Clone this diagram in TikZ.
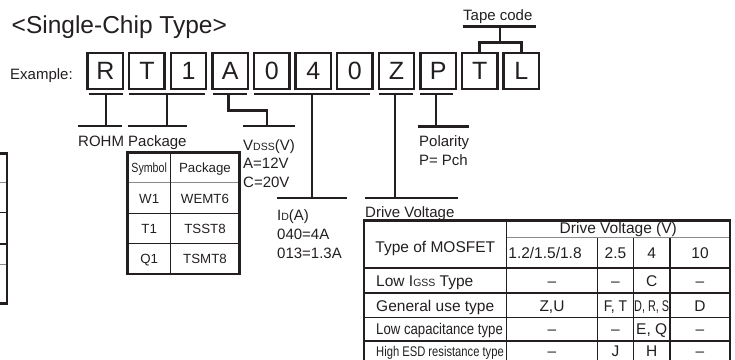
\documentclass[tikz,border=0pt]{standalone}
\usepackage{fontspec}
\usepackage{graphicx}
\setmainfont{Liberation Sans}
\definecolor{ink}{HTML}{231F20}
\definecolor{softrule}{HTML}{8A8A8A}
\newcommand{\fsz}[1]{\fontsize{#1}{#1}\selectfont}
\newcommand{\smc}[1]{{\fsz{10.5}#1}}
\begin{document}
\begin{tikzpicture}[x=1pt,y=-1pt,
  letterbox/.style={draw=ink, line width=2.4pt, minimum width=35.5pt, minimum height=35.5pt, inner sep=0pt, font=\fsz{25}, text=ink},
  bar/.style={draw=ink, line width=2.6pt},
  lbl/.style={anchor=base west, inner sep=0pt, font=\fsz{15}, text=ink},
  cell/.style={anchor=base, inner sep=0pt, font=\fsz{15.5}, text=ink},
  pcell/.style={anchor=base, inner sep=0pt, font=\fsz{13.3}, text=ink},
  thinrule/.style={draw=ink, line width=1.1pt},
  greyrule/.style={draw=softrule, line width=1pt},
  frame/.style={draw=ink, line width=2.6pt}]
\clip (0,0) rectangle (735,359);
\useasboundingbox (0,0) rectangle (735,359);

% title
\node[anchor=base west, inner sep=0pt, font=\fsz{24.5}, text=ink] (title) at (11.5,33) {<Single-Chip Type>};
\node[lbl] (example) at (10,79) {Example:};

% letter boxes
\node[letterbox] (bR)  at (105.3,71) {R};
\node[letterbox] (bT)  at (146.9,71) {T};
\node[letterbox] (b1)  at (188.5,71) {1};
\node[letterbox] (bA)  at (230.1,71) {A};
\node[letterbox] (b0a) at (271.7,71) {0};
\node[letterbox] (b4)  at (313.3,71) {4};
\node[letterbox] (b0b) at (354.9,71) {0};
\node[letterbox] (bZ)  at (396.5,71) {Z};
\node[letterbox] (bP)  at (438.1,71) {P};
\node[letterbox] (bT2) at (479.7,71) {T};
\node[letterbox] (bL)  at (521.3,71) {L};

% tape code
\node[lbl] (tape) at (463,20.7) {Tape code};
\coordinate (tapeA) at (500,26.7);
\coordinate (tapeB) at (500,42.7);
\draw[bar] (462.5,26.7) -- (536,26.7);
\draw[bar] (tapeA) -- (tapeB);
\draw[bar] (bT2.north) |- (tapeB) -| (bL.north);

% top bars and stems
\coordinate (rTop) at (106,94);
\coordinate (rBot) at (106,126);
\draw[bar] (88.5,94) -- (122.5,94);
\draw[bar] (rTop) -- (rBot);
\draw[bar] (78,126) -- (122,126);

\coordinate (pkTop) at (167,94);
\coordinate (pkBot) at (167,126);
\draw[bar] (129,94) -- (205,94);
\draw[bar] (pkTop) -- (pkBot);
\draw[bar] (128,126) -- (187,126);

\coordinate (vTop) at (228.5,94);
\coordinate (vBot) at (267,126);
\draw[bar] (212.5,94) -- (247,94);
\draw[bar] (vTop) -- (228.5,110.5) -| (vBot);
\draw[bar] (243,126) -- (295,126);

\coordinate (iTop) at (312,94);
\coordinate (iBot) at (312,198);
\draw[bar] (254,94) -- (370,94);
\draw[bar] (iTop) -- (iBot);
\draw[bar] (277,198) -- (347,198);

\coordinate (zTop) at (395,94);
\coordinate (zBot) at (395,198);
\draw[bar] (379,94) -- (413,94);
\draw[bar] (zTop) -- (zBot);
\draw[bar] (365,198) -- (458,198);

\coordinate (pTop) at (436,94);
\coordinate (pBot) at (436,126.5);
\draw[bar] (420,94) -- (453,94);
\draw[bar] (pTop) -- (pBot);
\draw[bar] (418,126.5) -- (469,126.5);

% labels
\node[lbl] (rohm) at (78,146) {ROHM};
\node[lbl] (pkg) at (128,146) {Package};
\node[lbl] (vdss) at (243,150) {V\smc{DSS}(V)};
\node[lbl] (vA) at (243,168.5) {A=12V};
\node[lbl] (vC) at (243,187) {C=20V};
\node[lbl] (id) at (277,220.5) {I\smc{D}(A)};
\node[lbl] (id1) at (277,239.5) {040=4A};
\node[lbl] (id2) at (277,258) {013=1.3A};
\node[lbl] (pol) at (419,146.5) {Polarity};
\node[lbl] (pol2) at (419,165) {P=\hspace{4pt}Pch};
\node[lbl] (drv) at (365,217) {Drive Voltage};

% left partial table
\draw[greyrule] (-5,182.7) -- (7,182.7);
\draw[thinrule] (-5,212.7) -- (7,212.7);
\draw[thinrule] (-5,244) -- (7,244);
\draw[greyrule] (-5,264) -- (7,264);
\draw[frame] (-5,153.3) -- (7,153.3) -- (7,303.3) -- (-5,303.3);

% package table
\draw[greyrule] (127.7,182.7) -- (239.3,182.7);
\draw[thinrule] (127.7,213.3) -- (239.3,213.3);
\draw[thinrule] (127.7,243.3) -- (239.3,243.3);
\draw[thinrule] (170.7,152.3) -- (170.7,274);
\draw[frame] (127.7,152.3) rectangle (239.3,274);
\node[pcell] (ps) at (149.2,172) {\scalebox{0.8}[1]{Symbol}};
\node[pcell] (pp) at (205,172) {Package};
\node[pcell] (w1) at (149.2,203) {W1};
\node[pcell] (w1p) at (205,203) {WEMT6};
\node[pcell] (t1) at (149.2,233.3) {T1};
\node[pcell] (t1p) at (205,233.3) {TSST8};
\node[pcell] (q1) at (149.2,263.5) {Q1};
\node[pcell] (q1p) at (205,263.5) {TSMT8};

% drive voltage table
\draw[greyrule] (506.7,237.5) -- (730,237.5);
\draw[draw=ink, line width=1.4pt] (364,268) -- (730,268);
\draw[thinrule] (364,293) -- (730,293);
\draw[thinrule] (364,317.5) -- (730,317.5);
\draw[thinrule] (364,341) -- (730,341);
\draw[thinrule] (506.7,220.7) -- (506.7,366);
\draw[thinrule] (597.7,237.5) -- (597.7,366);
\draw[thinrule] (633.3,237.5) -- (633.3,366);
\draw[thinrule] (670,237.5) -- (670,366);
\draw[frame] (364,220.7) rectangle (730,366);

\node[cell] (hType) at (435.3,252) {Type of MOSFET};
\node[cell] (hDV) at (618.3,233) {Drive Voltage (V)};
\node[cell] (h1) at (545,258.5) {1.2/1.5/1.8};
\node[cell] (h2) at (615.5,258.5) {2.5};
\node[cell] (h3) at (651.7,258.5) {4};
\node[cell] (h4) at (700,258.5) {10};

\node[cell, anchor=base west] (r1) at (376,286) {Low I\smc{GSS} Type};
\node[cell] (r1a) at (552,286) {–};
\node[cell] (r1b) at (615.5,286) {–};
\node[cell] (r1c) at (651.7,286) {C};
\node[cell] (r1d) at (700,286) {–};

\node[cell, anchor=base west] (r2) at (376,311) {General use type};
\node[cell] (r2a) at (552,311) {Z,U};
\node[cell] (r2b) at (615.5,311) {\scalebox{0.9}[1]{F, T}};
\node[cell] (r2c) at (651.7,311) {\scalebox{0.7}[1]{D, R, S}};
\node[cell] (r2d) at (700,311) {D};

\node[cell, anchor=base west] (r3) at (376,334.5) {\scalebox{0.85}[1]{Low capacitance type}};
\node[cell] (r3a) at (552,334.5) {–};
\node[cell] (r3b) at (615.5,334.5) {–};
\node[cell] (r3c) at (651.7,334.5) {E, Q};
\node[cell] (r3d) at (700,334.5) {–};

\node[cell, anchor=base west, font=\fsz{14}] (r4) at (376,356.5) {\scalebox{0.8}[1]{High ESD resistance type}};
\node[cell] (r4a) at (552,356.5) {–};
\node[cell] (r4b) at (615.5,356.5) {J};
\node[cell] (r4c) at (651.7,356.5) {H};
\node[cell] (r4d) at (700,356.5) {–};
\end{tikzpicture}
\end{document}
